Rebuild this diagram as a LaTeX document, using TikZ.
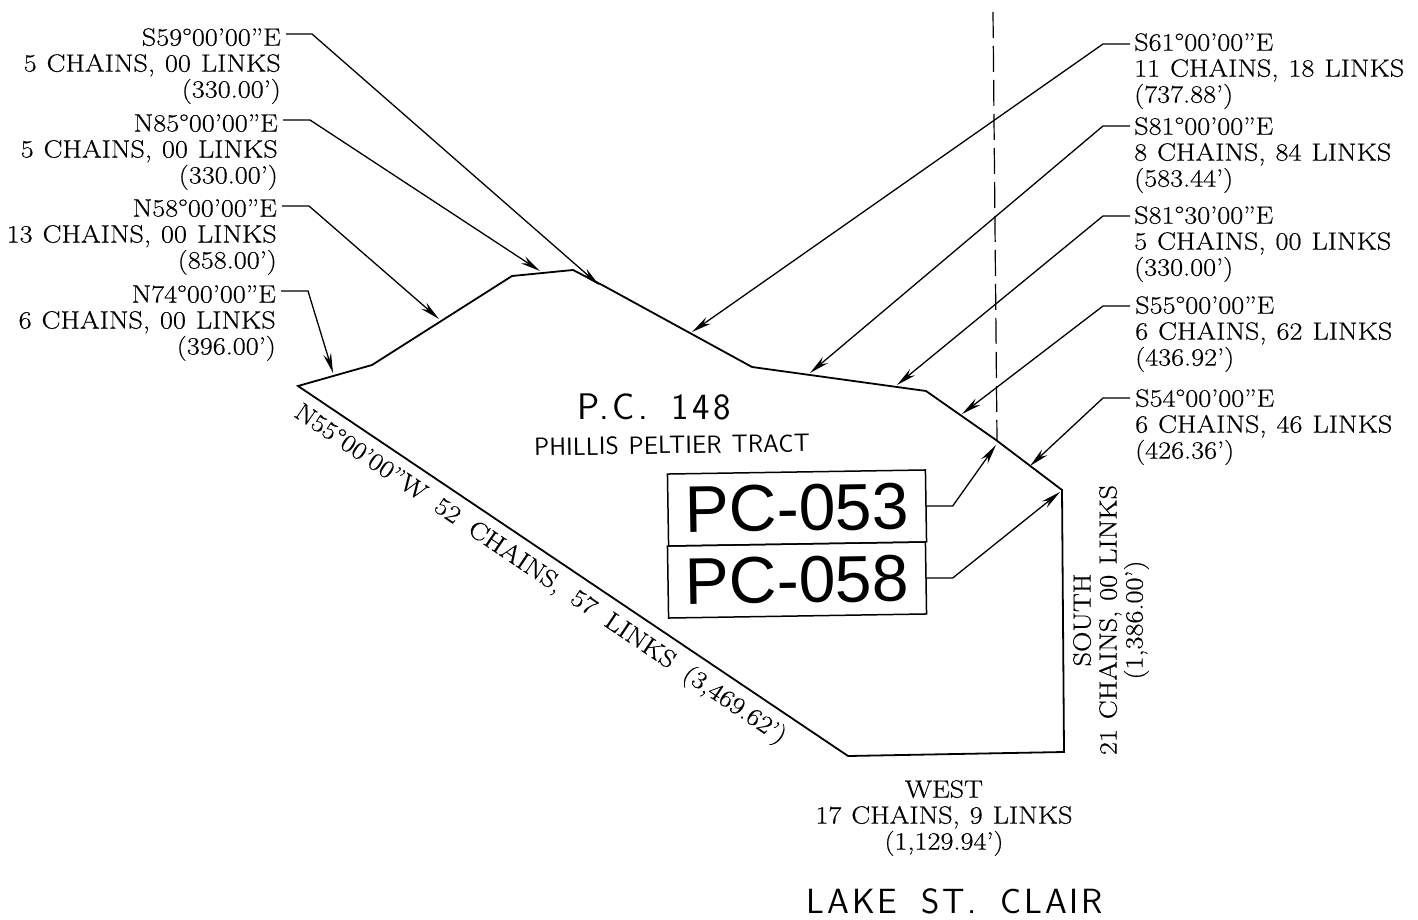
\documentclass[tikz,border=0pt]{standalone}
\usepackage{fontspec}
\usepackage{tikz}
\usetikzlibrary{arrows.meta}

\newfontfamily\pcfont{Liberation Sans}
\newfontfamily\callfam[FakeBold=0.5, FakeStretch=1.13]{Latin Modern Roman}
\newfontfamily\tractfam[LetterSpace=1]{Latin Modern Sans}
\newfontfamily\numberfam[LetterSpace=9]{Latin Modern Sans}
\newfontfamily\lakefam[LetterSpace=8]{Latin Modern Sans}
\newcommand{\callfont}{\callfam\fontsize{25}{26}\selectfont\spaceskip=10pt\relax}
\newcommand{\longfont}{\callfam\fontsize{25}{26}\selectfont\spaceskip=15pt\relax}
\newcommand{\tractfont}{\tractfam\fontsize{25}{28}\selectfont\spaceskip=10pt\relax}
\newcommand{\lakefont}{\lakefam\fontsize{35}{35}\selectfont\spaceskip=24pt\relax}
\newcommand{\numberfont}{\numberfam\fontsize{37}{37}\selectfont\spaceskip=24pt\relax}

\tikzset{
  boundary/.style={line width=1.8pt, line join=miter},
  lead/.style={line width=1.3pt, -{Stealth[length=20pt, width=8pt]}},
  callleft/.style={anchor=north east, align=right, inner sep=0pt, font=\callfont},
  callright/.style={anchor=north west, align=left, inner sep=0pt, font=\callfont},
  callmid/.style={align=center, inner sep=0pt, font=\callfont},
  pcbox/.style={draw, line width=1.5pt, rotate=0.9, minimum width=258pt, minimum height=72pt,
    inner sep=0pt, font=\pcfont\fontsize{66}{66}\selectfont},
}

\begin{document}
\begin{tikzpicture}[x=1pt, y=-1pt]
  \useasboundingbox (0, 0) rectangle (1418, 920);

  % Tract boundary.
  \draw [boundary] (298, 386) -- (372, 365) -- (512, 276) -- (573, 270) -- (604, 286)
    -- (752, 367) -- (926, 391) -- (996, 440) -- (1062, 490) -- (1064, 752)
    -- (848, 756) -- cycle;

  % Section line.
  \draw [line width=1.2pt, dash pattern=on 26pt off 8pt] (993, 12) -- (997, 440);

  % Calls on the left.
  \node (s59) [callleft] at (281, 28) {S59°00’00”E\\5 CHAINS, 00 LINKS\\(330.00’)};
  \node (n85) [callleft] at (278, 114) {N85°00’00”E\\5 CHAINS, 00 LINKS\\(330.00’)};
  \node (n58) [callleft] at (277, 199) {N58°00’00”E\\13 CHAINS, 00 LINKS\\(858.00’)};
  \node (n74) [callleft] at (276, 285) {N74°00’00”E\\6 CHAINS, 00 LINKS\\(396.00’)};

  \coordinate (s59tip) at (599, 285);
  \coordinate (n85tip) at (540, 271);
  \coordinate (n58tip) at (439, 319);
  \coordinate (n74tip) at (333, 373);

  \draw [lead] (s59.north east) ++(5, 6) -- ++(26, 0) -- (s59tip);
  \draw [lead] (n85.north east) ++(5, 6) -- ++(27, 0) -- (n85tip);
  \draw [lead] (n58.north east) ++(5, 7) -- ++(27, 0) -- (n58tip);
  \draw [lead] (n74.north east) ++(5, 6) -- ++(27, 0) -- (n74tip);

  % Calls on the right.
  \node (s61) [callright] at (1134, 33) {S61°00’00”E\\11 CHAINS, 18 LINKS\\(737.88’)};
  \node (s81) [callright] at (1134, 117) {S81°00’00”E\\8 CHAINS, 84 LINKS\\(583.44’)};
  \node (s8130) [callright] at (1134, 206) {S81°30’00”E\\5 CHAINS, 00 LINKS\\(330.00’)};
  \node (s55) [callright] at (1135, 296) {S55°00’00”E\\6 CHAINS, 62 LINKS\\(436.92’)};
  \node (s54) [callright] at (1135, 389) {S54°00’00”E\\6 CHAINS, 46 LINKS\\(426.36’)};

  \coordinate (s61tip) at (692, 332);
  \coordinate (s81tip) at (810, 373);
  \coordinate (s8130tip) at (897, 385);
  \coordinate (s55tip) at (962, 414);
  \coordinate (s54tip) at (1030, 466);

  \draw [lead] (s61.north west) ++(-4, 11) -- ++(-27, 0) -- (s61tip);
  \draw [lead] (s81.north west) ++(-4, 9) -- ++(-27, 0) -- (s81tip);
  \draw [lead] (s8130.north west) ++(-4, 10) -- ++(-27, 0) -- (s8130tip);
  \draw [lead] (s55.north west) ++(-5, 10) -- ++(-27, 0) -- (s55tip);
  \draw [lead] (s54.north west) ++(-5, 9) -- ++(-27, 0) -- (s54tip);

  % Calls along the other sides.
  \node (n55) [inner sep=0pt, font=\longfont, rotate=-34] at (540, 575)
    {N55°00’00”W 52 CHAINS, 57 LINKS (3,469.62’)};
  \node (south) [callmid, rotate=90] at (1111, 620)
    {SOUTH\\21 CHAINS, 00 LINKS\\(1,386.00’)};
  \node (west) [callmid] at (944, 818) {WEST\\17 CHAINS, 9 LINKS\\(1,129.94’)};

  % Tract names.
  \node (tract) [inner sep=0pt, font=\tractfont, rotate=0.9, align=center] at (672, 445) {PHILLIS PELTIER TRACT};
  \node (pc148) [inner sep=0pt, font=\numberfont] at (654, 407) {P.C. 148};
  \node (lake) [inner sep=0pt, font=\lakefont] at (955, 901) {LAKE ST. CLAIR};

  % Parcel numbers.
  \node (pc053) [pcbox] at (797, 508) {PC-053};
  \node (pc058) [pcbox] at (797, 580) {PC-058};

  \coordinate (pc053tip) at (996, 445);
  \coordinate (pc058tip) at (1060, 492);

  \draw [lead] (pc053.east) -- ++(26, 0) -- (pc053tip);
  \draw [lead] (pc058.east) -- ++(26, 0) -- (pc058tip);
\end{tikzpicture}
\end{document}
